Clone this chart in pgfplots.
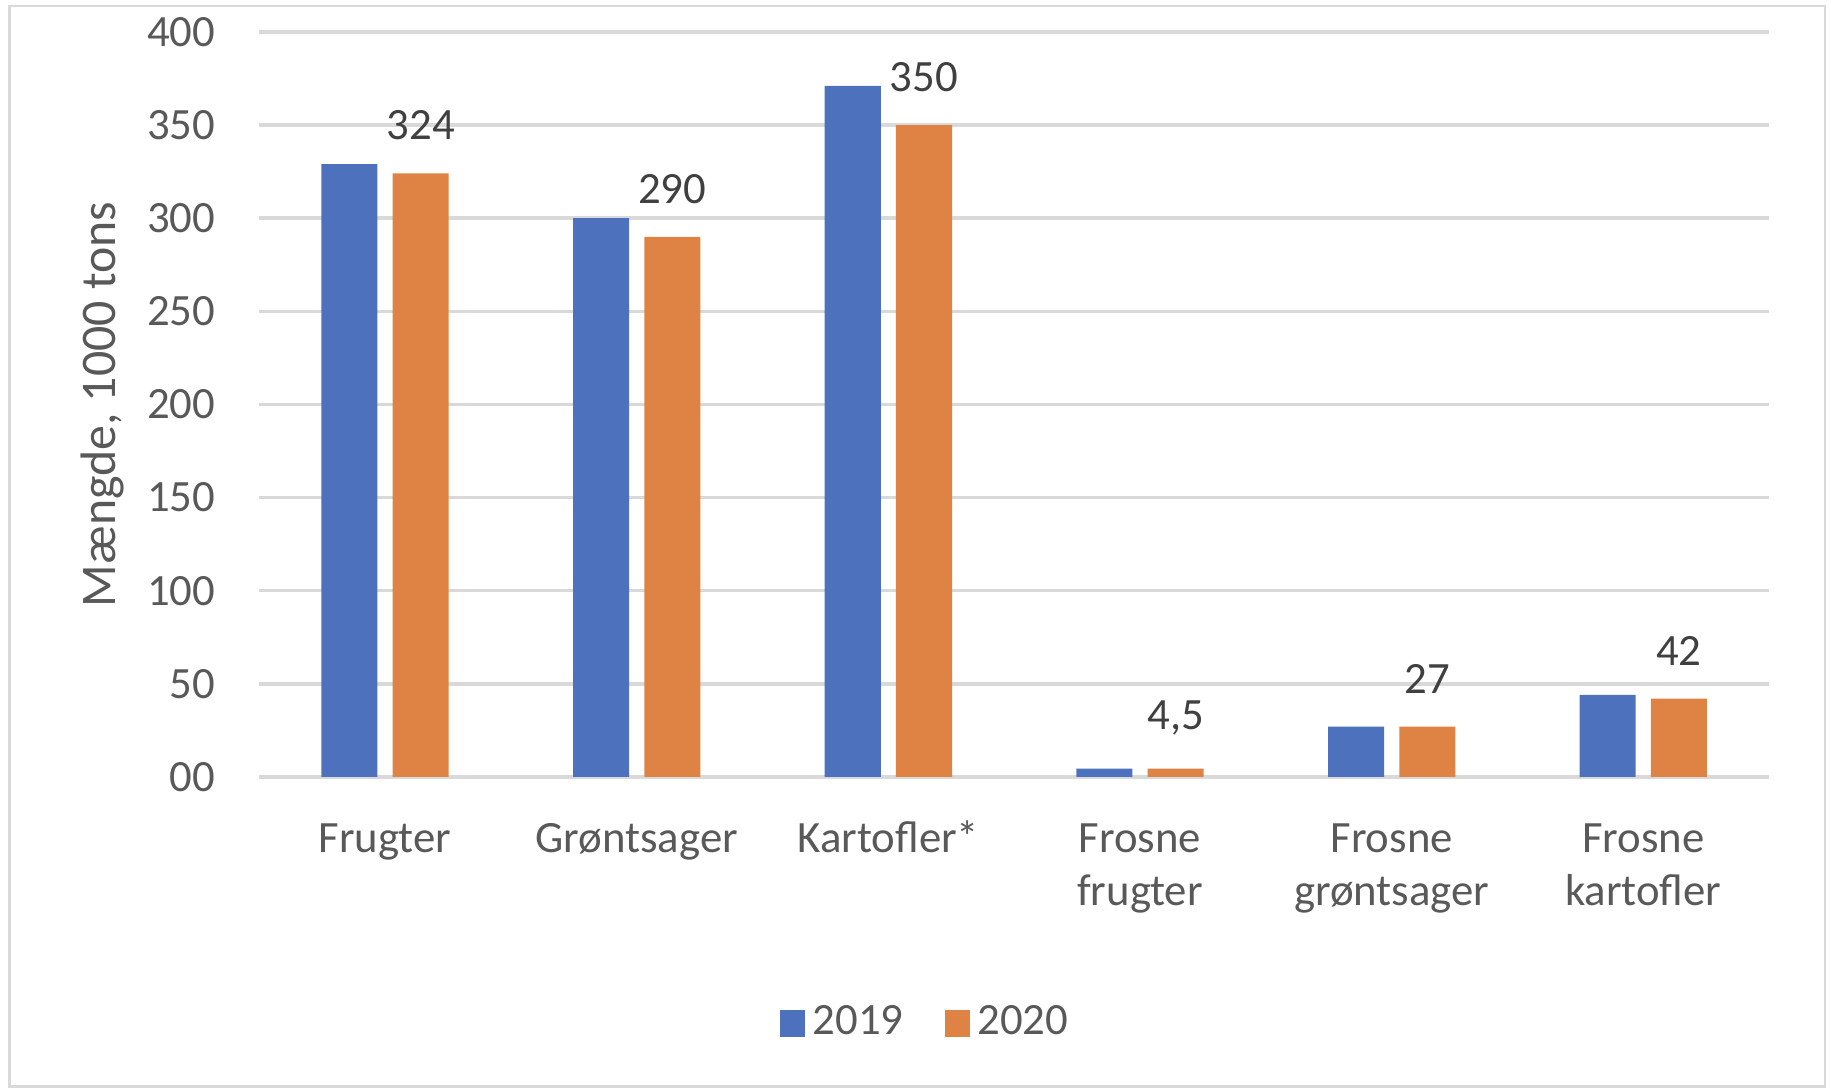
\documentclass[border=0pt]{standalone}
\usepackage{fontspec}
\setmainfont{Carlito}
\usepackage{pgfplots}
\pgfplotsset{compat=1.18}
\definecolor{cblue}{HTML}{4E71BE}
\definecolor{corange}{HTML}{DE8344}
\definecolor{cgrid}{HTML}{D9D9D9}
\definecolor{ctext}{HTML}{595959}
\definecolor{clab}{HTML}{404040}
\begin{document}
\fontsize{11.5}{13.8}\selectfont
\begin{tikzpicture}
\begin{axis}[
  at={(0,0)}, anchor=south west,
  scale only axis,
  width=387.9pt, height=191.4pt,
  ybar=3.9pt, bar width=14.4pt,
  xmin=-0.5, xmax=5.5,
  ymin=0, ymax=400,
  ytick={0,50,...,400},
  yticklabels={00,50,100,150,200,250,300,350,400},
  xtick={0,1,2,3,4,5},
  xticklabels={\strut Frugter,\strut Grøntsager,\strut Kartofler*,{\strut Frosne\\frugter},{\strut Frosne\\grøntsager},{\strut Frosne\\kartofler}},
  xticklabel style={align=center, text=ctext, yshift=-5.6pt, font=\fontsize{11.5}{13.8}\selectfont},
  yticklabel style={text=ctext, xshift=-7.3pt, font=\fontsize{11.5}{13.8}\selectfont},
  /pgf/number format/assume math mode=true,
  major tick length=0pt,
  axis line style={draw=none},
  ymajorgrids, grid style={line width=0.9pt, cgrid},
  ylabel={Mængde, 1000 tons},
  every axis y label/.style={at={(axis description cs:0,0.5)}, rotate=90, anchor=center, yshift=40.2pt, text=ctext, font=\fontsize{12.8}{15}\selectfont},
  legend style={at={(axis description cs:0.443,-0.331)}, anchor=center, draw=none, legend columns=2,
    font=\fontsize{11.5}{13.8}\selectfont, text=ctext,
    /tikz/every even column/.append style={column sep=8.7pt}},
  legend image code/.code={\fill (0pt,-3.45pt) rectangle (6.3pt,3.45pt);},
]
\addplot[fill=cblue, draw=none] coordinates {(0,329) (1,300) (2,371) (3,4.5) (4,27) (5,44)};
\addplot[fill=corange, draw=none,
  nodes near coords, point meta=explicit symbolic,
  every node near coord/.append style={anchor=south, text=clab, yshift=4.5pt, font=\fontsize{11.5}{13.8}\selectfont}]
  coordinates {(0,324) [324] (1,290) [290] (2,350) [350] (3,4.5) [{4,5}] (4,27) [27] (5,42) [42]};
\legend{2019,2020}
\end{axis}
\draw[cgrid, line width=0.6pt] (-64.2pt,-79.5pt) rectangle (402.3pt,198pt);
\pgfresetboundingbox
\path[use as bounding box] (-66.6pt,-80.4pt) rectangle (403.8pt,199.6pt);
\end{tikzpicture}
\end{document}
